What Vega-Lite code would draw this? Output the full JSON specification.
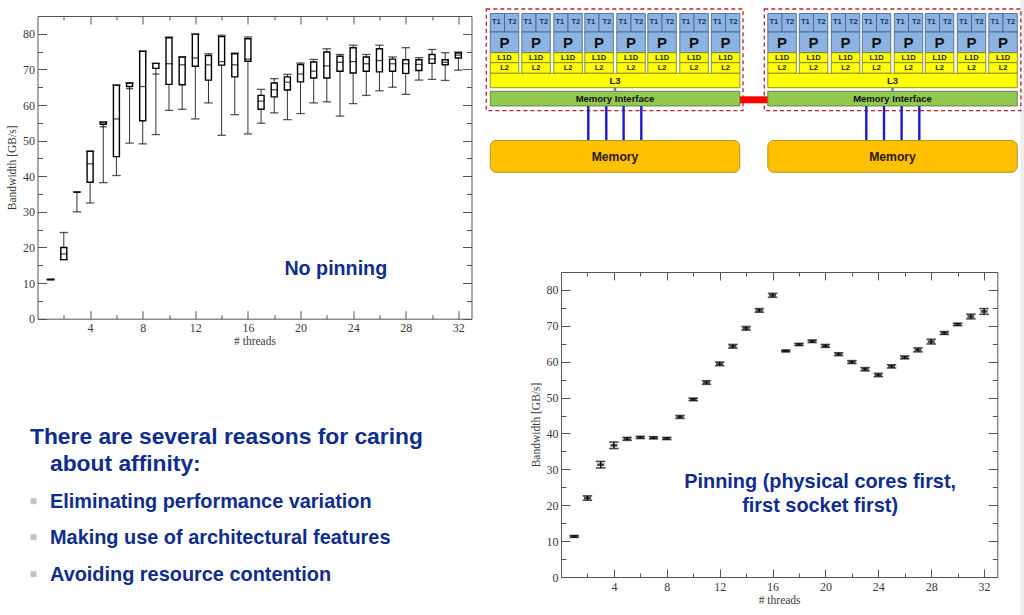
{"$schema":"https://vega.github.io/schema/vega-lite/v6.json","background":"white","padding":{"left":6.5,"top":0,"right":0,"bottom":0},"spacing":12.5,"bounds":"full",
"config":{"view":{"stroke":null},"axis":{"grid":false,"labelFont":"Liberation Serif","titleFont":"Liberation Serif","labelFontSize":12,"titleFontSize":11.5,"titleFontWeight":"normal","labelColor":"#3a3a3a","titleColor":"#3a3a3a","domainColor":"#555","tickColor":"#555","domainWidth":1,"tickWidth":1,"labelFlush":false,"labelOverlap":false}},
"datasets":{
"noPin":[{"threads":1,"min":10.9,"q1":11,"median":11,"q3":11,"max":11.1},{"threads":2,"min":16.6,"q1":16.6,"median":18.2,"q3":20,"max":24.2},{"threads":3,"min":30,"q1":35.5,"median":35.5,"q3":35.5,"max":35.6},{"threads":4,"min":32.5,"q1":38.3,"median":43.5,"q3":47,"max":47},{"threads":5,"min":38.2,"q1":54.6,"median":53.9,"q3":55.2,"max":55.2},{"threads":6,"min":40.2,"q1":45.5,"median":56.1,"q3":65.6,"max":65.6},{"threads":7,"min":49.3,"q1":65.2,"median":64.6,"q3":66.2,"max":66.2},{"threads":8,"min":49.1,"q1":55.6,"median":65.2,"q3":75.1,"max":75.1},{"threads":9,"min":51.7,"q1":70.3,"median":68.7,"q3":71.7,"max":71.7},{"threads":10,"min":58.5,"q1":65.8,"median":71.6,"q3":78.9,"max":79.1},{"threads":11,"min":58.8,"q1":65.7,"median":71.3,"q3":73.5,"max":73.5},{"threads":12,"min":56.1,"q1":70.9,"median":73.2,"q3":79.9,"max":79.9},{"threads":13,"min":60.6,"q1":67,"median":71.3,"q3":73.9,"max":74.4},{"threads":14,"min":51.5,"q1":71.2,"median":72.2,"q3":79.2,"max":79.6},{"threads":15,"min":57.3,"q1":67.9,"median":71.3,"q3":74.4,"max":74.6},{"threads":16,"min":51.9,"q1":72.3,"median":72.9,"q3":78.6,"max":79.1},{"threads":17,"min":54.9,"q1":58.8,"median":61.1,"q3":62.7,"max":64.4},{"threads":18,"min":57.8,"q1":62.3,"median":64.3,"q3":66.2,"max":67.4},{"threads":19,"min":55.9,"q1":64.2,"median":66.4,"q3":67.9,"max":68.6},{"threads":20,"min":57.6,"q1":66.5,"median":68.7,"q3":71.4,"max":71.8},{"threads":21,"min":60.6,"q1":67.6,"median":69.5,"q3":72.1,"max":72.8},{"threads":22,"min":60.9,"q1":67.6,"median":71,"q3":74.9,"max":75.8},{"threads":23,"min":56.9,"q1":69.5,"median":72,"q3":73.7,"max":74.2},{"threads":24,"min":60.4,"q1":69,"median":72.2,"q3":76.1,"max":76.8},{"threads":25,"min":62.7,"q1":69.5,"median":71.6,"q3":73.5,"max":74.2},{"threads":26,"min":64,"q1":69.3,"median":72.5,"q3":75.8,"max":76.8},{"threads":27,"min":65,"q1":69.5,"median":71.6,"q3":72.9,"max":73.5},{"threads":28,"min":63,"q1":68.9,"median":71.6,"q3":72.7,"max":76.1},{"threads":29,"min":67,"q1":69.7,"median":71.4,"q3":72.7,"max":73.3},{"threads":30,"min":67.2,"q1":71.7,"median":72.9,"q3":74.2,"max":75.6},{"threads":31,"min":66.9,"q1":71.3,"median":72,"q3":72.7,"max":74.7},{"threads":32,"min":69.8,"q1":73.2,"median":74,"q3":74.6,"max":74.9}],
"pin":[{"threads":1,"mean":11.3,"lo":11.05,"hi":11.55},{"threads":2,"mean":22,"lo":21.4,"hi":22.6},{"threads":3,"mean":31.3,"lo":30.4,"hi":32.2},{"threads":4,"mean":36.7,"lo":35.8,"hi":37.6},{"threads":5,"mean":38.5,"lo":38.1,"hi":38.9},{"threads":6,"mean":38.9,"lo":38.6,"hi":39.2},{"threads":7,"mean":38.8,"lo":38.5,"hi":39.1},{"threads":8,"mean":38.6,"lo":38.3,"hi":38.9},{"threads":9,"mean":44.6,"lo":44.2,"hi":45},{"threads":10,"mean":49.5,"lo":49.15,"hi":49.85},{"threads":11,"mean":54.2,"lo":53.7,"hi":54.7},{"threads":12,"mean":59.4,"lo":58.9,"hi":59.9},{"threads":13,"mean":64.3,"lo":63.8,"hi":64.8},{"threads":14,"mean":69.3,"lo":68.8,"hi":69.8},{"threads":15,"mean":74.3,"lo":73.8,"hi":74.8},{"threads":16,"mean":78.5,"lo":77.95,"hi":79.05},{"threads":17,"mean":63,"lo":62.75,"hi":63.25},{"threads":18,"mean":64.8,"lo":64.5,"hi":65.1},{"threads":19,"mean":65.7,"lo":65.35,"hi":66.05},{"threads":20,"mean":64.4,"lo":64,"hi":64.8},{"threads":21,"mean":62.1,"lo":61.7,"hi":62.5},{"threads":22,"mean":59.9,"lo":59.5,"hi":60.3},{"threads":23,"mean":57.9,"lo":57.45,"hi":58.35},{"threads":24,"mean":56.3,"lo":55.85,"hi":56.75},{"threads":25,"mean":58.7,"lo":58.25,"hi":59.15},{"threads":26,"mean":61.2,"lo":60.8,"hi":61.6},{"threads":27,"mean":63.3,"lo":62.75,"hi":63.85},{"threads":28,"mean":65.6,"lo":64.95,"hi":66.25},{"threads":29,"mean":68,"lo":67.6,"hi":68.4},{"threads":30,"mean":70.4,"lo":70.05,"hi":70.75},{"threads":31,"mean":72.6,"lo":71.95,"hi":73.25},{"threads":32,"mean":74,"lo":73.2,"hi":74.8}],
"cores":[{"x":490,"t1":496,"split":504.2,"t2":512,"end":518.5},{"x":521.5,"t1":527.5,"split":535.7,"t2":543.5,"end":550},{"x":553.5,"t1":559.5,"split":567.7,"t2":575.5,"end":582},{"x":584.5,"t1":590.5,"split":598.7,"t2":606.5,"end":613},{"x":616.5,"t1":622.5,"split":630.7,"t2":638.5,"end":645},{"x":647.5,"t1":653.5,"split":661.7,"t2":669.5,"end":676},{"x":679.5,"t1":685.5,"split":693.7,"t2":701.5,"end":708},{"x":711,"t1":717,"split":725.2,"t2":733,"end":739.5},{"x":767.5,"t1":773.5,"split":781.7,"t2":789.5,"end":796},{"x":799,"t1":805,"split":813.2,"t2":821,"end":827.5},{"x":831,"t1":837,"split":845.2,"t2":853,"end":859.5},{"x":862,"t1":868,"split":876.2,"t2":884,"end":890.5},{"x":894,"t1":900,"split":908.2,"t2":916,"end":922.5},{"x":925,"t1":931,"split":939.2,"t2":947,"end":953.5},{"x":957,"t1":963,"split":971.2,"t2":979,"end":985.5},{"x":988.5,"t1":994.5,"split":1002.7,"t2":1010.5,"end":1017}],
"sockets":[{"x":490,"end":739.5,"mid":614.7},{"x":767.5,"end":1017,"mid":892.2}],
"channels":[{"x":588},{"x":606},{"x":623.3},{"x":641},{"x":866},{"x":883.7},{"x":901.3},{"x":919}],
"frames":[{"x":486,"end":742.7},{"x":764,"end":1020.5}],
"link":[{"x":739.5,"end":767.5}],
"edge":[{"x":1020,"end":1024}]
},
"hconcat":[
{"bounds":"flush","spacing":0,"vconcat":[
{"width":434,"height":15.7,"data":{"values":[{"a":0}]},"mark":{"type":"rect","opacity":0},"encoding":{"x":{"datum":0,"type":"quantitative","axis":null,"scale":{"domain":[0,1]}},"x2":{"datum":1},"y":{"datum":0,"type":"quantitative","axis":null,"scale":{"domain":[0,1],"range":[0,15.7]}},"y2":{"datum":1}}},
{"width":434,"height":302.7,"data":{"name":"noPin"},"resolve":{"axis":{"x":"independent","y":"independent"}},"layer":[
{"mark":{"type":"rule","color":"#333","strokeWidth":1},"encoding":{
"x":{"field":"threads","type":"quantitative","scale":{"domain":[0,33],"nice":false,"zero":false,"padding":0},"axis":{"orient":"bottom","values":[4,8,12,16,20,24,28,32],"ticks":false,"labelPadding":4,"title":"# threads","titlePadding":2,"format":"d"}},
"y":{"field":"max","type":"quantitative","scale":{"domain":[0,85],"nice":false},"axis":{"orient":"left","values":[0,10,20,30,40,50,60,70,80],"ticks":false,"labelPadding":3,"title":"Bandwidth [GB/s]","titlePadding":5,"format":"d"}},"y2":{"field":"min"}}},
{"mark":{"type":"bar","width":6,"fill":"white","stroke":"#000","strokeWidth":1.4,"orient":"vertical"},"encoding":{
"x":{"field":"threads","type":"quantitative","scale":{"domain":[0,33],"nice":false,"zero":false,"padding":0},"axis":{"orient":"bottom","values":[4,8,12,16,20,24,28,32],"labels":false,"tickSize":-8,"title":null,"domain":false}},
"y":{"field":"q3","type":"quantitative","scale":{"domain":[0,85],"nice":false},"axis":{"orient":"left","values":[0,10,20,30,40,50,60,70,80],"labels":false,"tickSize":-9,"title":null,"domain":false}},"y2":{"field":"q1"}}},
{"mark":{"type":"tick","orient":"horizontal","size":7,"thickness":1.3,"color":"#000"},"encoding":{
"x":{"field":"threads","type":"quantitative","scale":{"domain":[0,33],"nice":false,"zero":false,"padding":0},"axis":{"orient":"top","values":[4,8,12,16,20,24,28,32],"labels":false,"tickSize":-8,"title":null}},
"y":{"field":"median","type":"quantitative","scale":{"domain":[0,85],"nice":false},"axis":{"orient":"right","values":[0,10,20,30,40,50,60,70,80],"labels":false,"tickSize":-9,"title":null}}}},
{"mark":{"type":"tick","orient":"horizontal","size":8.5,"thickness":1.3,"color":"#111"},"encoding":{
"x":{"field":"threads","type":"quantitative","scale":{"domain":[0,33],"nice":false,"zero":false,"padding":0},"axis":{"orient":"bottom","values":[2,6,10,14,18,22,26,30],"labels":false,"tickSize":-4,"title":null,"domain":false}},
"y":{"field":"min","type":"quantitative","scale":{"domain":[0,85],"nice":false},"axis":{"orient":"left","values":[5,15,25,35,45,55,65,75],"labels":false,"tickSize":-5,"title":null,"domain":false}}}},
{"mark":{"type":"tick","orient":"horizontal","size":8.5,"thickness":1.3,"color":"#111"},"encoding":{
"x":{"field":"threads","type":"quantitative","scale":{"domain":[0,33],"nice":false,"zero":false,"padding":0},"axis":{"orient":"top","values":[2,6,10,14,18,22,26,30],"labels":false,"tickSize":-4,"title":null,"domain":false}},
"y":{"field":"max","type":"quantitative","scale":{"domain":[0,85],"nice":false},"axis":{"orient":"right","values":[5,15,25,35,45,55,65,75],"labels":false,"tickSize":-5,"title":null,"domain":false}}}},
{"data":{"values":[{"threads":22.68,"v":12.4,"label":"No pinning"}]},"mark":{"type":"text","font":"Liberation Sans","fontWeight":"bold","fontSize":19.7,"color":"#0f2d8c","align":"center","baseline":"alphabetic"},"encoding":{
"x":{"field":"threads","type":"quantitative","scale":{"domain":[0,33],"nice":false,"zero":false,"padding":0},"axis":null},
"y":{"field":"v","type":"quantitative","scale":{"domain":[0,85],"nice":false},"axis":null},"text":{"field":"label"}}}
]},
{"width":434,"height":296.7,"layer":[
{"data":{"values":[{"x":34,"y":500.5},{"x":34,"y":536.5},{"x":34,"y":573.5}]},"mark":{"type":"square","size":36,"color":"#c4c4c4","opacity":1},"encoding":{
"x":{"field":"x","type":"quantitative","axis":null,"scale":{"domain":[38,472],"nice":false,"zero":false}},
"y":{"field":"y","type":"quantitative","axis":null,"scale":{"domain":[318.3,615],"reverse":true,"nice":false,"zero":false}}}},
{"data":{"values":[{"x":30.5,"y":443.5,"line":"There are several reasons for caring"},{"x":50.5,"y":470.5,"line":"about affinity:"},{"x":50.5,"y":507.5,"line":"Eliminating performance variation"},{"x":50.5,"y":543.5,"line":"Making use of architectural features"},{"x":50.5,"y":580.5,"line":"Avoiding resource contention"}]},"mark":{"type":"text","font":"Liberation Sans","fontWeight":"bold","fontSize":20,"color":"#0f2d8c","align":"left","baseline":"alphabetic"},"encoding":{
"x":{"field":"x","type":"quantitative","axis":null,"scale":{"domain":[38,472],"nice":false,"zero":false}},
"y":{"field":"y","type":"quantitative","axis":null,"scale":{"domain":[318.3,615],"reverse":true,"nice":false,"zero":false}},"text":{"field":"line"},"size":{"condition":{"test":"datum.y<480","value":22.8},"value":19.9}}}
]}
]},
{"bounds":"flush","spacing":0,"vconcat":[
{"width":436.3,"height":271.7,"encoding":{},"layer":[
{"data":{"name":"edge"},"mark":{"type":"rect","color":"#eeeeee"},"encoding":{"x":{"field":"x","type":"quantitative","axis":null,"scale":{"domain":[560.7,997],"nice":false,"zero":false}},"x2":{"field":"end"},"y":{"datum":0,"type":"quantitative","axis":null,"scale":{"domain":[0,271.7],"reverse":true,"nice":false,"zero":false}},"y2":{"datum":615}}},
{"data":{"name":"frames"},"mark":{"type":"rect","fill":null,"stroke":"#c0202a","strokeWidth":1.3,"strokeDash":[4,3]},"encoding":{"x":{"field":"x","type":"quantitative","axis":null,"scale":{"domain":[560.7,997],"nice":false,"zero":false}},"x2":{"field":"end"},"y":{"datum":9,"type":"quantitative","axis":null,"scale":{"domain":[0,271.7],"reverse":true,"nice":false,"zero":false}},"y2":{"datum":110.7}}},
{"data":{"name":"link"},"mark":{"type":"rect","color":"#ff0000"},"encoding":{"x":{"field":"x","type":"quantitative","axis":null,"scale":{"domain":[560.7,997],"nice":false,"zero":false}},"x2":{"field":"end"},"y":{"datum":96.3,"type":"quantitative","axis":null,"scale":{"domain":[0,271.7],"reverse":true,"nice":false,"zero":false}},"y2":{"datum":103.3}}},
{"data":{"name":"channels"},"mark":{"type":"rule","color":"#1a1ad2","strokeWidth":2.4},"encoding":{"x":{"field":"x","type":"quantitative","axis":null,"scale":{"domain":[560.7,997],"nice":false,"zero":false}},"y":{"datum":106,"type":"quantitative","axis":null,"scale":{"domain":[0,271.7],"reverse":true,"nice":false,"zero":false}},"y2":{"datum":140.5}}},
{"data":{"name":"sockets"},"mark":{"type":"rule","color":"#5a7fd0","strokeWidth":2.5},"encoding":{"x":{"field":"mid","type":"quantitative","axis":null,"scale":{"domain":[560.7,997],"nice":false,"zero":false}},"y":{"datum":87.7,"type":"quantitative","axis":null,"scale":{"domain":[0,271.7],"reverse":true,"nice":false,"zero":false}},"y2":{"datum":91.3}}},
{"data":{"name":"cores"},"mark":{"type":"rect","fill":"#8db3e2","stroke":"#3d5f8c","strokeWidth":0.8},"encoding":{"x":{"field":"x","type":"quantitative","axis":null,"scale":{"domain":[560.7,997],"nice":false,"zero":false}},"x2":{"field":"split"},"y":{"datum":13.5,"type":"quantitative","axis":null,"scale":{"domain":[0,271.7],"reverse":true,"nice":false,"zero":false}},"y2":{"datum":32}}},
{"data":{"name":"cores"},"mark":{"type":"rect","fill":"#8db3e2","stroke":"#3d5f8c","strokeWidth":0.8},"encoding":{"x":{"field":"split","type":"quantitative","axis":null,"scale":{"domain":[560.7,997],"nice":false,"zero":false}},"x2":{"field":"end"},"y":{"datum":13.5,"type":"quantitative","axis":null,"scale":{"domain":[0,271.7],"reverse":true,"nice":false,"zero":false}},"y2":{"datum":32}}},
{"data":{"name":"cores"},"mark":{"type":"rect","fill":"#8db3e2","stroke":"#3d5f8c","strokeWidth":0.8},"encoding":{"x":{"field":"x","type":"quantitative","axis":null,"scale":{"domain":[560.7,997],"nice":false,"zero":false}},"x2":{"field":"end"},"y":{"datum":32,"type":"quantitative","axis":null,"scale":{"domain":[0,271.7],"reverse":true,"nice":false,"zero":false}},"y2":{"datum":52.7}}},
{"data":{"name":"cores"},"mark":{"type":"rect","fill":"#ffff00","stroke":"#77771a","strokeWidth":0.8},"encoding":{"x":{"field":"x","type":"quantitative","axis":null,"scale":{"domain":[560.7,997],"nice":false,"zero":false}},"x2":{"field":"end"},"y":{"datum":52.7,"type":"quantitative","axis":null,"scale":{"domain":[0,271.7],"reverse":true,"nice":false,"zero":false}},"y2":{"datum":62.7}}},
{"data":{"name":"cores"},"mark":{"type":"rect","fill":"#ffff00","stroke":"#77771a","strokeWidth":0.8},"encoding":{"x":{"field":"x","type":"quantitative","axis":null,"scale":{"domain":[560.7,997],"nice":false,"zero":false}},"x2":{"field":"end"},"y":{"datum":62.7,"type":"quantitative","axis":null,"scale":{"domain":[0,271.7],"reverse":true,"nice":false,"zero":false}},"y2":{"datum":73.3}}},
{"data":{"name":"sockets"},"mark":{"type":"rect","fill":"#ffff00","stroke":"#77771a","strokeWidth":0.8},"encoding":{"x":{"field":"x","type":"quantitative","axis":null,"scale":{"domain":[560.7,997],"nice":false,"zero":false}},"x2":{"field":"end"},"y":{"datum":73.3,"type":"quantitative","axis":null,"scale":{"domain":[0,271.7],"reverse":true,"nice":false,"zero":false}},"y2":{"datum":87.7}}},
{"data":{"name":"sockets"},"mark":{"type":"rect","fill":"#92c850","stroke":"#55713a","strokeWidth":0.8},"encoding":{"x":{"field":"x","type":"quantitative","axis":null,"scale":{"domain":[560.7,997],"nice":false,"zero":false}},"x2":{"field":"end"},"y":{"datum":91.3,"type":"quantitative","axis":null,"scale":{"domain":[0,271.7],"reverse":true,"nice":false,"zero":false}},"y2":{"datum":106}}},
{"data":{"name":"sockets"},"mark":{"type":"rect","fill":"#ffc000","stroke":"#a88a20","strokeWidth":0.9,"cornerRadius":6},"encoding":{"x":{"field":"x","type":"quantitative","axis":null,"scale":{"domain":[560.7,997],"nice":false,"zero":false}},"x2":{"field":"end"},"y":{"datum":140.5,"type":"quantitative","axis":null,"scale":{"domain":[0,271.7],"reverse":true,"nice":false,"zero":false}},"y2":{"datum":172.3}}},
{"data":{"name":"cores"},"mark":{"type":"text","text":"T1","font":"Liberation Sans","fontWeight":"bold","fontSize":7.5,"color":"#1c3358","baseline":"middle"},"encoding":{"x":{"field":"t1","type":"quantitative","axis":null,"scale":{"domain":[560.7,997],"nice":false,"zero":false}},"y":{"datum":22.2,"type":"quantitative","axis":null,"scale":{"domain":[0,271.7],"reverse":true,"nice":false,"zero":false}}}},
{"data":{"name":"cores"},"mark":{"type":"text","text":"T2","font":"Liberation Sans","fontWeight":"bold","fontSize":7.5,"color":"#1c3358","baseline":"middle"},"encoding":{"x":{"field":"t2","type":"quantitative","axis":null,"scale":{"domain":[560.7,997],"nice":false,"zero":false}},"y":{"datum":22.2,"type":"quantitative","axis":null,"scale":{"domain":[0,271.7],"reverse":true,"nice":false,"zero":false}}}},
{"data":{"name":"cores"},"mark":{"type":"text","text":"P","font":"Liberation Sans","fontWeight":"bold","fontSize":15,"color":"#111","baseline":"middle"},"encoding":{"x":{"field":"split","type":"quantitative","axis":null,"scale":{"domain":[560.7,997],"nice":false,"zero":false}},"y":{"datum":42.8,"type":"quantitative","axis":null,"scale":{"domain":[0,271.7],"reverse":true,"nice":false,"zero":false}}}},
{"data":{"name":"cores"},"mark":{"type":"text","text":"L1D","font":"Liberation Sans","fontWeight":"bold","fontSize":7.5,"color":"#222","baseline":"middle"},"encoding":{"x":{"field":"split","type":"quantitative","axis":null,"scale":{"domain":[560.7,997],"nice":false,"zero":false}},"y":{"datum":58,"type":"quantitative","axis":null,"scale":{"domain":[0,271.7],"reverse":true,"nice":false,"zero":false}}}},
{"data":{"name":"cores"},"mark":{"type":"text","text":"L2","font":"Liberation Sans","fontWeight":"bold","fontSize":7.5,"color":"#222","baseline":"middle"},"encoding":{"x":{"field":"split","type":"quantitative","axis":null,"scale":{"domain":[560.7,997],"nice":false,"zero":false}},"y":{"datum":68.3,"type":"quantitative","axis":null,"scale":{"domain":[0,271.7],"reverse":true,"nice":false,"zero":false}}}},
{"data":{"name":"sockets"},"mark":{"type":"text","text":"L3","font":"Liberation Sans","fontWeight":"bold","fontSize":9.5,"color":"#222","baseline":"middle"},"encoding":{"x":{"field":"mid","type":"quantitative","axis":null,"scale":{"domain":[560.7,997],"nice":false,"zero":false}},"y":{"datum":80.8,"type":"quantitative","axis":null,"scale":{"domain":[0,271.7],"reverse":true,"nice":false,"zero":false}}}},
{"data":{"name":"sockets"},"mark":{"type":"text","text":"Memory Interface","font":"Liberation Sans","fontWeight":"bold","fontSize":9.5,"color":"#111","baseline":"middle"},"encoding":{"x":{"field":"mid","type":"quantitative","axis":null,"scale":{"domain":[560.7,997],"nice":false,"zero":false}},"y":{"datum":99,"type":"quantitative","axis":null,"scale":{"domain":[0,271.7],"reverse":true,"nice":false,"zero":false}}}},
{"data":{"name":"sockets"},"mark":{"type":"text","text":"Memory","font":"Liberation Sans","fontWeight":"bold","fontSize":12.2,"color":"#2a1a00","baseline":"middle"},"encoding":{"x":{"field":"mid","type":"quantitative","axis":null,"scale":{"domain":[560.7,997],"nice":false,"zero":false}},"y":{"datum":157,"type":"quantitative","axis":null,"scale":{"domain":[0,271.7],"reverse":true,"nice":false,"zero":false}}}}
]},
{"width":436.3,"height":305,"data":{"name":"pin"},"resolve":{"axis":{"x":"independent","y":"independent"}},"layer":[
{"mark":{"type":"rule","color":"#000","strokeWidth":1.4},"encoding":{
"x":{"field":"threads","type":"quantitative","scale":{"domain":[0,33],"nice":false,"zero":false},"axis":{"orient":"bottom","values":[4,8,12,16,20,24,28,32],"ticks":false,"labelPadding":4,"title":"# threads","titlePadding":2,"format":"d"}},
"y":{"field":"hi","type":"quantitative","scale":{"domain":[0,85],"nice":false},"axis":{"orient":"left","values":[0,10,20,30,40,50,60,70,80],"ticks":false,"labelPadding":3,"title":"Bandwidth [GB/s]","titlePadding":5,"format":"d"}},"y2":{"field":"lo"}}},
{"mark":{"type":"tick","orient":"horizontal","size":9.5,"thickness":1.6,"color":"#000"},"encoding":{
"x":{"field":"threads","type":"quantitative","scale":{"domain":[0,33],"nice":false,"zero":false},"axis":{"orient":"bottom","values":[4,8,12,16,20,24,28,32],"labels":false,"tickSize":-8,"title":null,"domain":false}},
"y":{"field":"hi","type":"quantitative","scale":{"domain":[0,85],"nice":false},"axis":{"orient":"left","values":[0,10,20,30,40,50,60,70,80],"labels":false,"tickSize":-9,"title":null,"domain":false}}}},
{"mark":{"type":"tick","orient":"horizontal","size":9.5,"thickness":1.6,"color":"#000"},"encoding":{
"x":{"field":"threads","type":"quantitative","scale":{"domain":[0,33],"nice":false,"zero":false},"axis":{"orient":"top","values":[4,8,12,16,20,24,28,32],"labels":false,"tickSize":-8,"title":null}},
"y":{"field":"lo","type":"quantitative","scale":{"domain":[0,85],"nice":false},"axis":{"orient":"right","values":[0,10,20,30,40,50,60,70,80],"labels":false,"tickSize":-9,"title":null}}}},
{"mark":{"type":"tick","orient":"horizontal","size":7,"thickness":2.6,"color":"#000"},"encoding":{
"x":{"field":"threads","type":"quantitative","scale":{"domain":[0,33],"nice":false,"zero":false},"axis":{"orient":"bottom","values":[2,6,10,14,18,22,26,30],"labels":false,"tickSize":-4,"title":null,"domain":false}},
"y":{"field":"mean","type":"quantitative","scale":{"domain":[0,85],"nice":false},"axis":{"orient":"left","values":[5,15,25,35,45,55,65,75],"labels":false,"tickSize":-5,"title":null,"domain":false}}}},
{"data":{"values":[{"threads":19.6,"v":24.8,"label":"Pinning (physical cores first,"},{"threads":19.6,"v":18,"label":"first socket first)"}]},"mark":{"type":"text","font":"Liberation Sans","fontWeight":"bold","fontSize":19.9,"color":"#0f2d8c","align":"center","baseline":"alphabetic"},"encoding":{
"x":{"field":"threads","type":"quantitative","scale":{"domain":[0,33],"nice":false,"zero":false},"axis":{"orient":"top","values":[2,6,10,14,18,22,26,30],"labels":false,"tickSize":-4,"title":null,"domain":false}},
"y":{"field":"v","type":"quantitative","scale":{"domain":[0,85],"nice":false},"axis":{"orient":"right","values":[5,15,25,35,45,55,65,75],"labels":false,"tickSize":-5,"title":null,"domain":false}},"text":{"field":"label"}}}
]}
]}
]}
